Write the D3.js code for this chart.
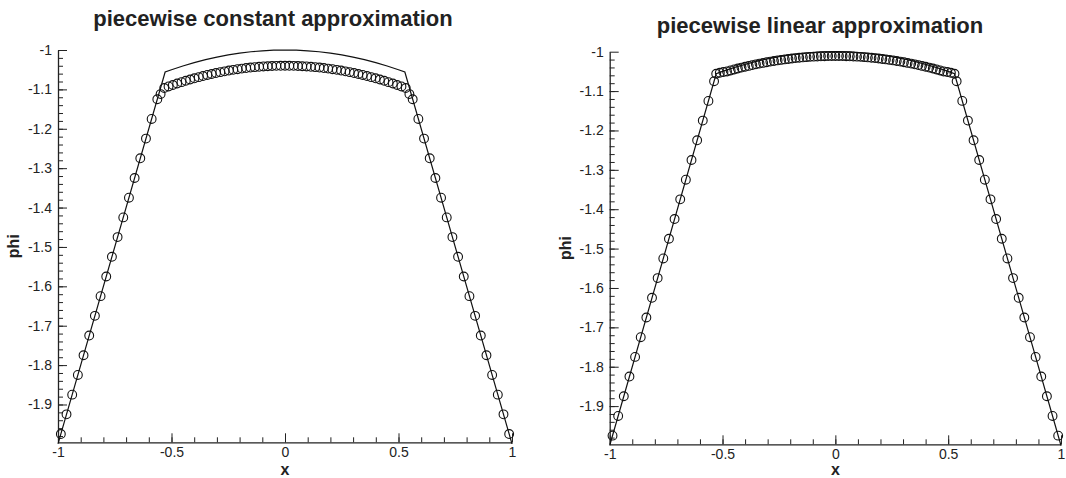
<!DOCTYPE html>
<html>
<head>
<meta charset="utf-8">
<script src="https://cdn.jsdelivr.net/npm/d3@7"></script>
<style>
  body { margin: 0; background: #fff; }
  svg { display: block; }
  text { font-family: "Liberation Sans", Arial, Helvetica, sans-serif; fill: #222; }
</style>
</head>
<body>
<div class="chart"></div>
<script>
// tick labels
const xTicks = [-1, -0.5, 0, 0.5, 1];
const xTickLabels = ["-1", "-0.5", "0", "0.5", "1"];
const yTicks = [-1, -1.1, -1.2, -1.3, -1.4, -1.5, -1.6, -1.7, -1.8, -1.9];
const yTickLabels = ["-1", "-1.1", "-1.2", "-1.3", "-1.4", "-1.5", "-1.6", "-1.7", "-1.8", "-1.9"];

// exact solution (solid line), same in both panels
const exactX = [-1, -0.528, -0.5, -0.45, -0.4, -0.35, -0.3, -0.25, -0.2, -0.15, -0.1, -0.05, 0,
  0.05, 0.1, 0.15, 0.2, 0.25, 0.3, 0.35, 0.4, 0.45, 0.5, 0.528, 1];
const exactPhi = [-2, -1.056, -1.05, -1.0405, -1.032, -1.0245, -1.018, -1.0125, -1.008, -1.0045, -1.002, -1.0005, -1,
  -1.0005, -1.002, -1.0045, -1.008, -1.0125, -1.018, -1.0245, -1.032, -1.0405, -1.05, -1.056, -2];

// piecewise constant approximation (circles)
const constX = [-0.9875, -0.9625, -0.9375, -0.9125, -0.8875, -0.8625, -0.8375, -0.8125, -0.7875, -0.7625,
  -0.7375, -0.7125, -0.6875, -0.6625, -0.6375, -0.6125, -0.5875, -0.5625, -0.548,
  -0.532, -0.513, -0.494, -0.475, -0.456, -0.437, -0.418, -0.399, -0.38, -0.361, -0.342, -0.323, -0.304,
  -0.285, -0.266, -0.247, -0.228, -0.209, -0.19, -0.171, -0.152, -0.133, -0.114, -0.095, -0.076, -0.057,
  -0.038, -0.019, 0, 0.019, 0.038, 0.057, 0.076, 0.095, 0.114, 0.133, 0.152, 0.171, 0.19, 0.209, 0.228,
  0.247, 0.266, 0.285, 0.304, 0.323, 0.342, 0.361, 0.38, 0.399, 0.418, 0.437, 0.456, 0.475, 0.494, 0.513, 0.532,
  0.548, 0.5625, 0.5875, 0.6125, 0.6375, 0.6625, 0.6875, 0.7125, 0.7375, 0.7625, 0.7875, 0.8125, 0.8375,
  0.8625, 0.8875, 0.9125, 0.9375, 0.9625, 0.9875];
const constPhi = [-1.975, -1.925, -1.875, -1.825, -1.775, -1.725, -1.675, -1.625, -1.575, -1.525,
  -1.475, -1.425, -1.375, -1.325, -1.275, -1.225, -1.175, -1.125, -1.112,
  -1.0966, -1.0926, -1.0888, -1.0851, -1.0816, -1.0782, -1.0749, -1.0718, -1.0689, -1.0661, -1.0634, -1.0609, -1.0585,
  -1.0562, -1.0542, -1.0522, -1.0504, -1.0487, -1.0472, -1.0458, -1.0446, -1.0435, -1.0426, -1.0418, -1.0412, -1.0406,
  -1.0403, -1.0401, -1.04, -1.0401, -1.0403, -1.0406, -1.0412, -1.0418, -1.0426, -1.0435, -1.0446, -1.0458, -1.0472, -1.0487, -1.0504,
  -1.0522, -1.0542, -1.0562, -1.0585, -1.0609, -1.0634, -1.0661, -1.0689, -1.0718, -1.0749, -1.0782, -1.0816, -1.0851, -1.0888, -1.0926, -1.0966,
  -1.112, -1.125, -1.175, -1.225, -1.275, -1.325, -1.375, -1.425, -1.475, -1.525, -1.575, -1.625, -1.675,
  -1.725, -1.775, -1.825, -1.875, -1.925, -1.975];

// piecewise linear approximation (circles)
const linX = [-0.9875, -0.9625, -0.9375, -0.9125, -0.8875, -0.8625, -0.8375, -0.8125, -0.7875, -0.7625,
  -0.7375, -0.7125, -0.6875, -0.6625, -0.6375, -0.6125, -0.5875, -0.5625, -0.5375,
  -0.528, -0.512, -0.496, -0.48, -0.464, -0.448, -0.432, -0.416, -0.4, -0.384, -0.368, -0.352, -0.336, -0.32,
  -0.304, -0.288, -0.272, -0.256, -0.24, -0.224, -0.208, -0.192, -0.176, -0.16, -0.144, -0.128, -0.112, -0.096,
  -0.08, -0.064, -0.048, -0.032, -0.016, 0, 0.016, 0.032, 0.048, 0.064, 0.08, 0.096, 0.112, 0.128, 0.144, 0.16,
  0.176, 0.192, 0.208, 0.224, 0.24, 0.256, 0.272, 0.288, 0.304, 0.32, 0.336, 0.352, 0.368, 0.384, 0.4, 0.416,
  0.432, 0.448, 0.464, 0.48, 0.496, 0.512, 0.528,
  0.5375, 0.5625, 0.5875, 0.6125, 0.6375, 0.6625, 0.6875, 0.7125, 0.7375, 0.7625, 0.7875, 0.8125, 0.8375,
  0.8625, 0.8875, 0.9125, 0.9375, 0.9625, 0.9875];
const linPhi = [-1.975, -1.925, -1.875, -1.825, -1.775, -1.725, -1.675, -1.625, -1.575, -1.525,
  -1.475, -1.425, -1.375, -1.325, -1.275, -1.225, -1.175, -1.125, -1.075,
  -1.056, -1.0535, -1.0515, -1.0502, -1.0476, -1.0451, -1.0427, -1.0404, -1.0382, -1.0361, -1.034, -1.0321, -1.0302, -1.0284,
  -1.0267, -1.0251, -1.0236, -1.0221, -1.0208, -1.0195, -1.0184, -1.0173, -1.0163, -1.0154, -1.0145, -1.0138, -1.0131, -1.0126,
  -1.0121, -1.0117, -1.0114, -1.0112, -1.011, -1.011, -1.011, -1.0112, -1.0114, -1.0117, -1.0121, -1.0126, -1.0131, -1.0138, -1.0145, -1.0154,
  -1.0163, -1.0173, -1.0184, -1.0195, -1.0208, -1.0221, -1.0236, -1.0251, -1.0267, -1.0284, -1.0302, -1.0321, -1.034, -1.0361, -1.0382, -1.0404,
  -1.0427, -1.0451, -1.0476, -1.0502, -1.0515, -1.0535, -1.056,
  -1.075, -1.125, -1.175, -1.225, -1.275, -1.325, -1.375, -1.425, -1.475, -1.525, -1.575, -1.625, -1.675,
  -1.725, -1.775, -1.825, -1.875, -1.925, -1.975];

const width = 1066, height = 478;

const svg = d3.select(".chart").append("svg")
  .attr("width", width)
  .attr("height", height);

function drawPanel(p) {
  const xScale = d3.scaleLinear().domain([-1, 1]).range([p.left, p.right]);
  const yScale = d3.scaleLinear().domain([p.yMin, -1]).range([p.bottom, p.top]);

  const g = svg.append("g");

  // minor ticks
  g.append("g")
    .attr("transform", `translate(0,${p.bottom})`)
    .call(d3.axisBottom(xScale).tickValues(d3.range(-0.9, 1, 0.1)).tickSize(-5).tickFormat("").tickSizeOuter(0))
    .call(a => a.select(".domain").remove());
  g.append("g")
    .attr("transform", `translate(${p.left},0)`)
    .call(d3.axisLeft(yScale).tickValues(d3.range(-1.98, -1.001, 0.02)).tickSize(-5).tickFormat("").tickSizeOuter(0))
    .call(a => a.select(".domain").remove());

  // major ticks + labels
  const xAxis = g.append("g")
    .attr("transform", `translate(0,${p.bottom})`)
    .call(d3.axisBottom(xScale).tickValues(xTicks).tickSize(-9).tickSizeOuter(0).tickPadding(5)
      .tickFormat((d, i) => xTickLabels[i]));
  const yAxis = g.append("g")
    .attr("transform", `translate(${p.left},0)`)
    .call(d3.axisLeft(yScale).tickValues(yTicks).tickSize(-9).tickSizeOuter(0).tickPadding(6)
      .tickFormat((d, i) => yTickLabels[i]));

  g.selectAll(".tick line").attr("stroke", "#222").attr("stroke-width", 1);
  g.selectAll(".domain").attr("stroke", "#222").attr("stroke-width", 1.3);
  [xAxis, yAxis].forEach(a => a.attr("font-size", 14).attr("font-family", null)
    .selectAll("text").attr("fill", "#222"));

  // exact line
  const line = d3.line().x((d, i) => xScale(exactX[i])).y(d => yScale(d));
  g.append("path")
    .attr("d", line(exactPhi))
    .attr("fill", "none")
    .attr("stroke", "#111")
    .attr("stroke-width", 1.2);

  // approximation circles
  g.selectAll("circle.pt")
    .data(p.phi)
    .enter()
    .append("circle")
    .attr("class", "pt")
    .attr("cx", (d, i) => xScale(p.xs[i]))
    .attr("cy", d => yScale(d))
    .attr("r", 4.4)
    .attr("fill", "none")
    .attr("stroke", "#111")
    .attr("stroke-width", 1.1);

  // titles
  g.append("text")
    .attr("x", p.titleX)
    .attr("y", p.titleY)
    .attr("text-anchor", "middle")
    .attr("font-size", 22)
    .attr("font-weight", "bold")
    .text(p.title);

  g.append("text")
    .attr("x", xScale(0))
    .attr("y", p.xLabelY)
    .attr("text-anchor", "middle")
    .attr("font-size", 16)
    .attr("font-weight", "bold")
    .text("x");

  g.append("text")
    .attr("transform", `translate(${p.left - 39},${(p.top + p.bottom) / 2}) rotate(-90)`)
    .attr("text-anchor", "middle")
    .attr("font-size", 16)
    .attr("font-weight", "bold")
    .text("phi");
}

drawPanel({
  left: 58, right: 512, top: 50, bottom: 442.3, yMin: -1.996,
  title: "piecewise constant approximation", titleX: 273, titleY: 26,
  xLabelY: 474.5,
  xs: constX, phi: constPhi
});

drawPanel({
  left: 609.7, right: 1061, top: 51.7, bottom: 444.3, yMin: -1.997,
  title: "piecewise linear approximation", titleX: 820, titleY: 33,
  xLabelY: 475,
  xs: linX, phi: linPhi
});
</script>
</body>
</html>
